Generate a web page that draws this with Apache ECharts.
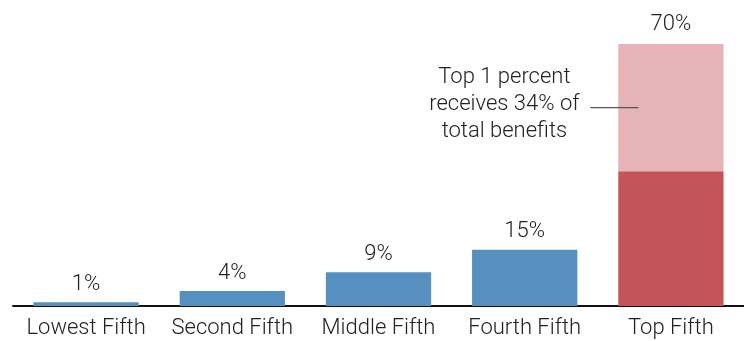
<!DOCTYPE html>
<html>
<head>
<meta charset="utf-8">
<script src="https://cdn.jsdelivr.net/npm/echarts@6/dist/echarts.min.js"></script>
<style>
  html, body { margin: 0; padding: 0; background: #fff; }
  #chart { width: 744px; height: 341px; }
</style>
</head>
<body>
<div id="chart"></div>
<script>
// share of total benefits by income group
var categories = ['Lowest Fifth', 'Second Fifth', 'Middle Fifth', 'Fourth Fifth', 'Top Fifth'];
var baseValues = [1, 4, 9, 15, 36];      // top fifth: rest of the fifth (dark red)
var topOneValues = [null, null, null, null, 34]; // top 1 percent (light red)
var totalLabels = ['1%', '4%', '9%', '15%', '70%'];
var note = ['Top 1 percent', 'receives 34% of', 'total benefits'];

var font = 'Roboto, "Noto Sans", sans-serif';
var blue = '#5590c0';
var darkRed = '#c5535a';
var lightRed = '#e6b3b6';

var myChart = echarts.init(document.getElementById('chart'));

var labelStyle = {
  position: 'top',
  distance: 7,
  color: '#222',
  fontFamily: font,
  fontWeight: 300,
  fontSize: 22,
  formatter: function (p) { return totalLabels[p.dataIndex]; }
};

myChart.setOption({
  animation: false,
  grid: { left: 13, right: 0, top: 44, bottom: 35 },
  xAxis: {
    type: 'category',
    data: categories,
    axisLine: { lineStyle: { color: '#111', width: 2 } },
    axisTick: { show: false },
    axisLabel: { color: '#222', fontFamily: font, fontWeight: 300, fontSize: 22, margin: 11, interval: 0 }
  },
  yAxis: {
    type: 'value',
    min: 0,
    max: 70,
    show: false
  },
  series: [{
    type: 'bar',
    stack: 'total',
    barWidth: '72%',
    data: baseValues.map(function (v, i) {
      return {
        value: v,
        itemStyle: { color: i === 4 ? darkRed : blue },
        label: { show: i < 4 }
      };
    }),
    label: labelStyle
  }, {
    type: 'bar',
    stack: 'total',
    barWidth: '72%',
    itemStyle: { color: lightRed },
    data: topOneValues,
    label: Object.assign({}, labelStyle, { show: true, distance: 9 })
  }]
});

// annotation pointing at the top 1 percent block
var anchor = myChart.convertToPixel({ seriesIndex: 1 }, [4, 36 + 34 * 0.5]);
var barLeft = anchor[0] - 105 / 2;
myChart.setOption({
  graphic: [{
    type: 'line',
    z: 100,
    shape: { x1: barLeft - 28, y1: anchor[1], x2: barLeft + 20, y2: anchor[1] },
    style: { stroke: '#555', lineWidth: 1.2 }
  }, {
    type: 'text',
    z: 100,
    x: barLeft - 114,
    y: anchor[1] - 3,
    style: {
      text: note.join('\n'),
      align: 'center',
      verticalAlign: 'middle',
      fill: '#222',
      font: '300 22px ' + font,
      lineHeight: 27
    }
  }]
});
</script>
</body>
</html>
